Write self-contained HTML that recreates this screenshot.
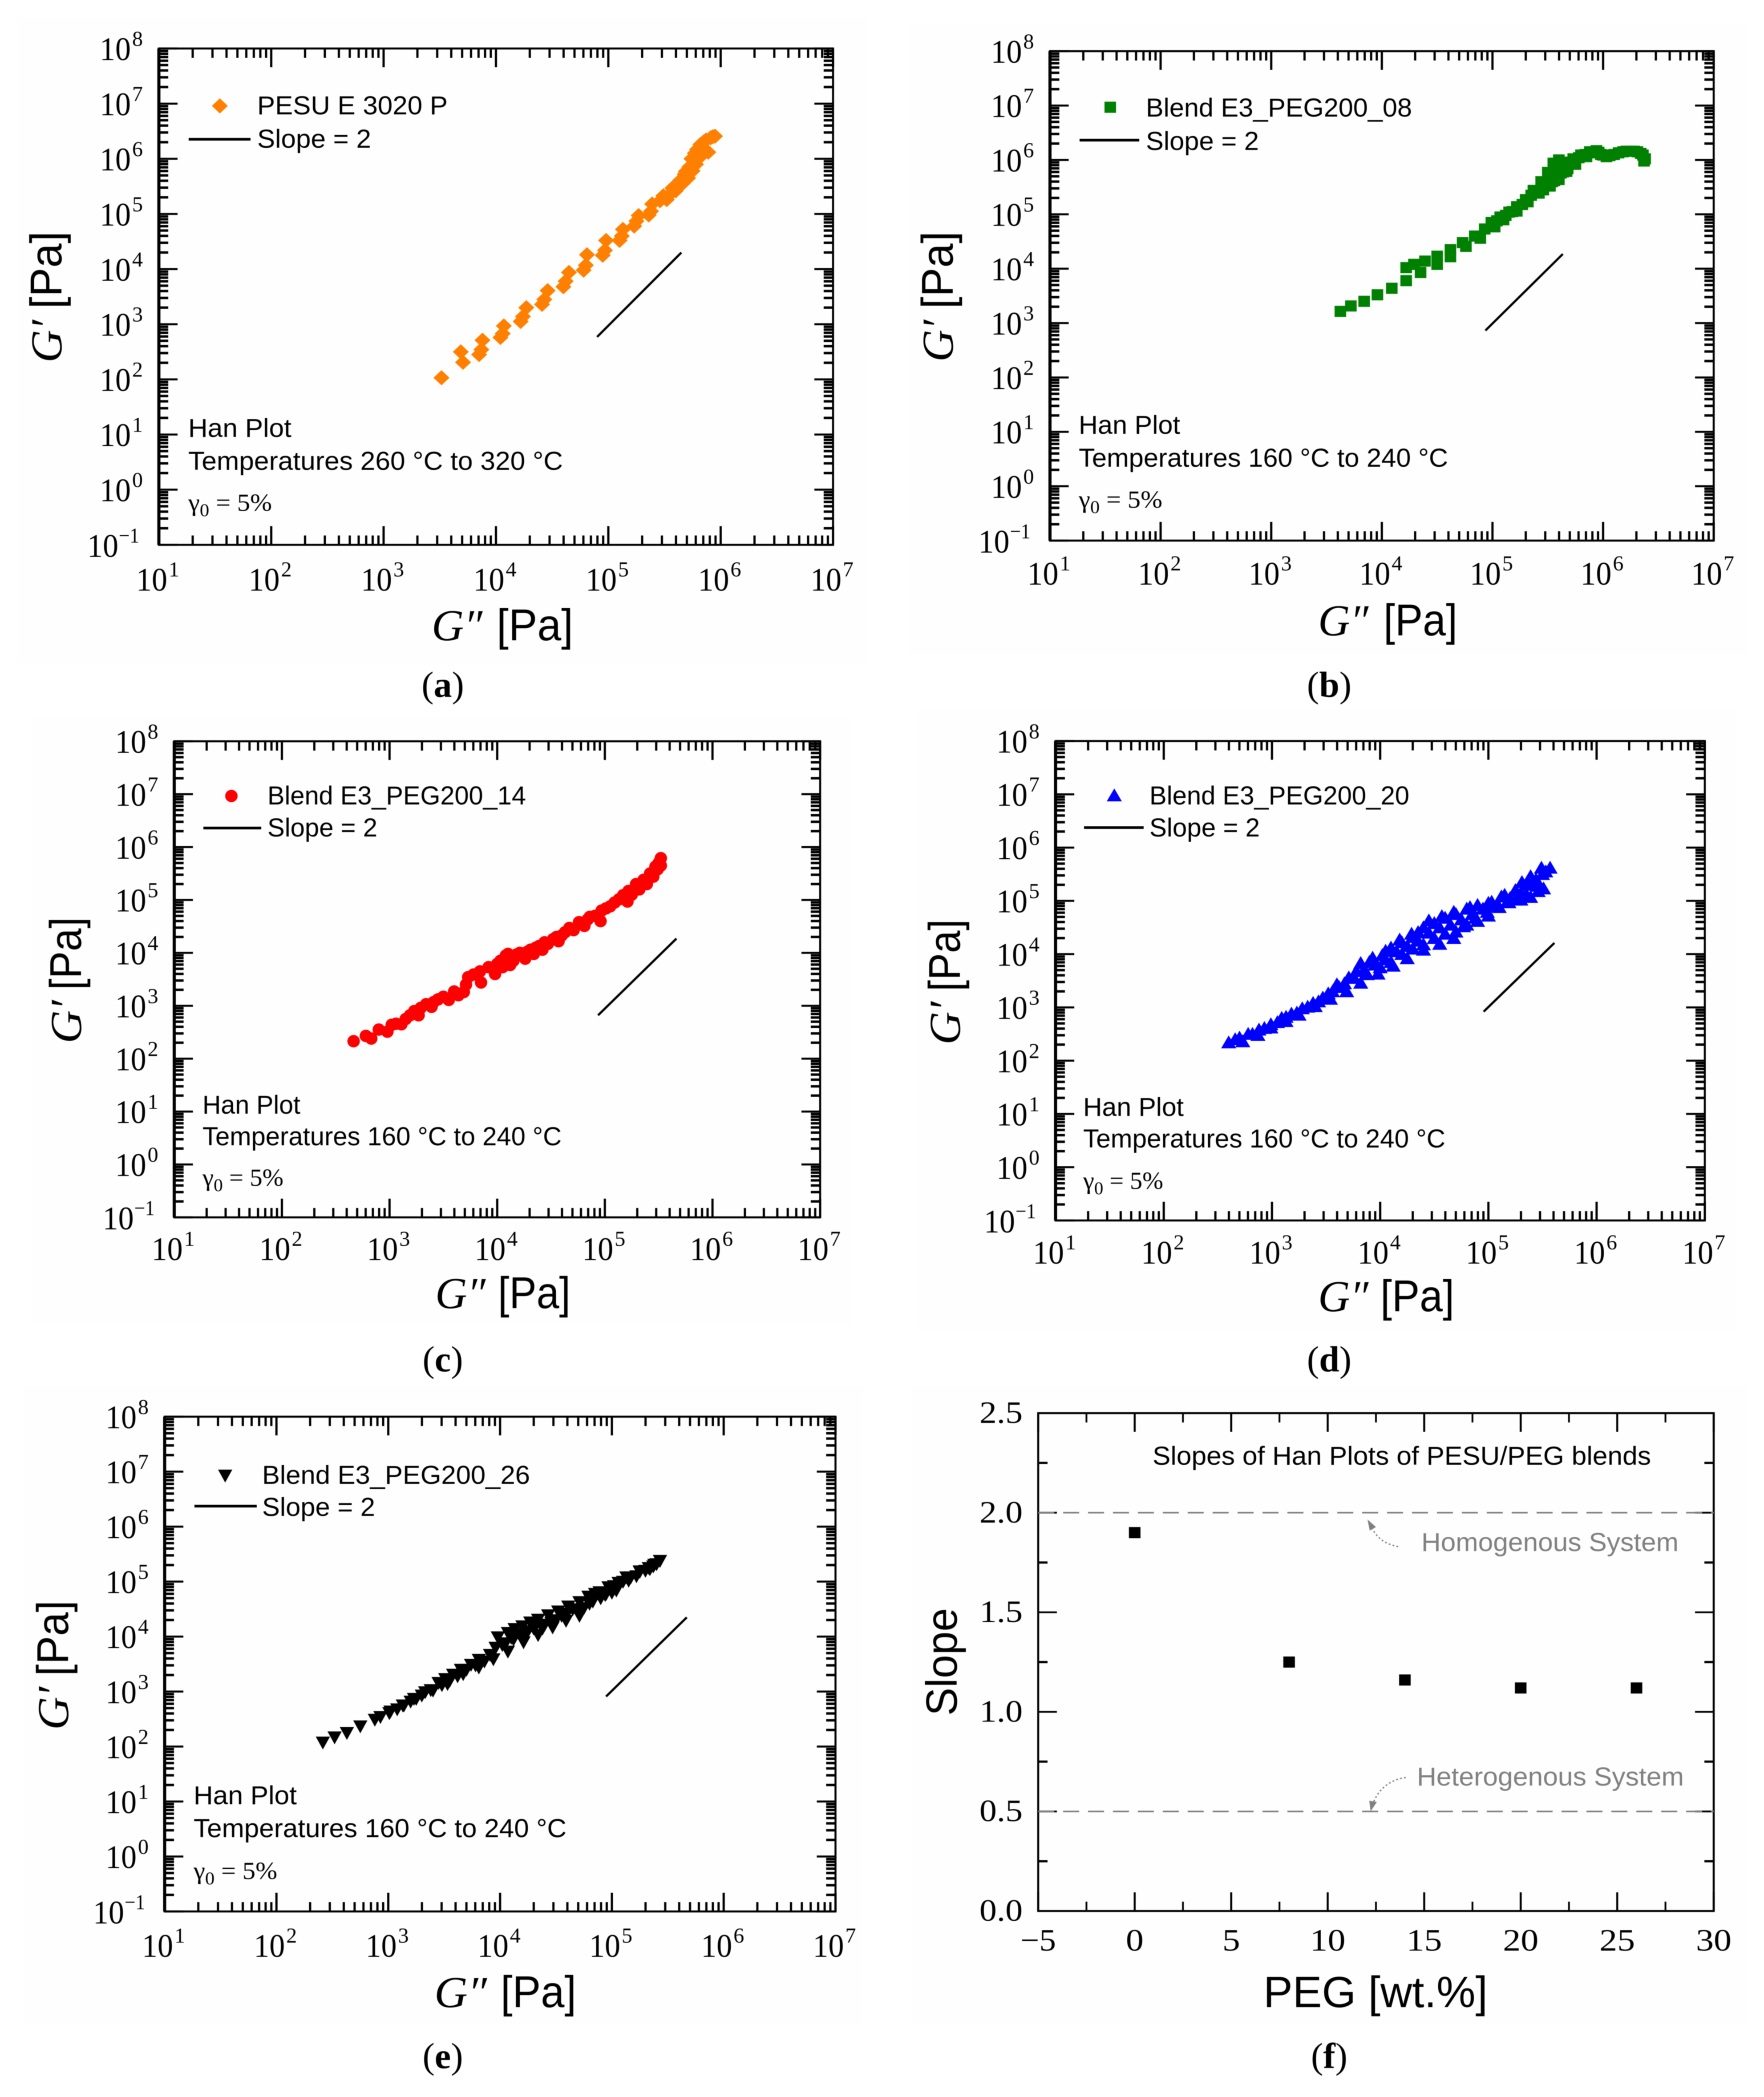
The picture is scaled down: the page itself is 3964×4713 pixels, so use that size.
<!DOCTYPE html>
<html lang="en">
<head>
<meta charset="utf-8">
<title>Han plots of PESU/PEG blends</title>
<style>
html,body{margin:0;padding:0;background:#fff;}
svg{display:block;filter:blur(0.9px);}
</style>
</head>
<body>
<svg id="figure" xmlns="http://www.w3.org/2000/svg" width="3964" height="4713" viewBox="0 0 3964 4713"></svg>
<script>
// ---------- chart data (log10 of Pa) ----------
const xTickExponents = [1, 2, 3, 4, 5, 6, 7];
const yTickExponents = [-1, 0, 1, 2, 3, 4, 5, 6, 7, 8];
const minorMultipliers = [2, 3, 4, 5, 6, 7, 8, 9];

const logGppA = [3.515,3.687,3.707,3.88,3.87,3.85,4.07,4.06,4.04,4.27,4.24,4.22,4.46,4.43,4.41,4.65,4.62,4.60,4.81,4.80,4.78,4.98,4.97,4.95,5.13,5.12,5.10,5.27,5.25,5.23,5.39,5.38,5.36,5.46,5.49,5.52,5.55,5.57,5.60,5.62,5.64,5.66,5.68,5.69,5.71,5.72,5.74,5.75,5.77,5.78,5.79,5.80,5.82,5.83,5.85,5.87,5.89,5.91,5.93,5.95];
const logGpA = [2.03,2.50,2.31,2.71,2.54,2.45,2.97,2.83,2.76,3.30,3.14,3.05,3.61,3.45,3.36,3.94,3.78,3.68,4.26,4.07,3.98,4.52,4.34,4.25,4.72,4.60,4.52,4.97,4.87,4.78,5.18,5.05,4.98,5.24,5.33,5.26,5.36,5.47,5.42,5.48,5.61,5.55,5.72,5.77,5.65,5.85,6.00,5.78,6.10,5.90,6.17,6.00,6.26,6.06,6.31,6.34,6.12,6.38,6.40,6.41];
const guideXA = [4.90, 5.65];
const guideYA = [2.77, 4.30];

const logGppB = [3.625,3.72,3.84,3.96,4.09,4.22,4.35,4.50,4.62,4.76,4.89,4.22,4.29,4.39,4.50,4.62,4.73,4.84,4.93,4.99,5.07,5.15,5.22,5.30,5.37,5.44,5.50,5.55,5.60,5.02,5.10,5.22,5.32,5.42,5.52,5.60,5.67,5.75,5.85,5.46,5.50,5.54,5.58,5.62,5.56,5.60,5.64,5.68,5.65,5.73,5.80,5.88,5.94,5.98,6.03,6.10,6.18,6.25,6.31,6.36,6.38,6.37,5.70,5.78,5.84,5.90,5.96,6.00,6.06,6.14,6.21,6.28,6.34,5.04,5.12,5.18,5.27,5.35,5.40,5.48,5.52,5.58];
const logGpB = [3.215,3.315,3.40,3.52,3.64,3.78,3.93,4.08,4.22,4.41,4.56,4.02,4.08,4.14,4.23,4.35,4.48,4.60,4.73,4.85,4.95,5.04,5.14,5.27,5.44,5.60,5.77,5.94,6.00,4.77,4.90,5.06,5.23,5.39,5.52,5.64,5.79,5.92,6.06,5.45,5.52,5.60,5.68,5.76,5.62,5.70,5.78,5.84,5.90,6.02,6.09,6.15,6.17,6.10,6.06,6.10,6.15,6.16,6.15,6.09,6.02,5.98,5.96,6.04,6.10,6.13,6.14,6.09,6.08,6.13,6.16,6.16,6.12,4.88,4.98,5.05,5.18,5.35,5.42,5.58,5.70,5.85];
const guideXB = [4.936, 5.636];
const guideYB = [2.863, 4.27];

const logGppC = [2.666,2.78,2.83,2.90,2.98,3.02,3.11,3.19,3.27,3.29,3.39,3.41,3.50,3.55,3.60,3.69,3.71,3.73,3.78,3.85,3.84,3.92,3.98,4.0,4.05,4.10,4.12,4.15,4.21,4.26,4.31,4.36,4.42,4.44,4.52,4.57,4.63,4.71,4.81,4.86,4.96,4.97,5.05,5.13,5.21,5.22,5.29,5.36,5.42,5.47,5.52,5.52,3.06,3.15,3.23,3.34,3.45,3.64,3.95,4.03,4.08,4.18,4.24,4.28,4.34,4.39,4.47,4.55,4.60,4.67,4.76,4.84,4.91,5.01,5.09,5.17,5.25,5.32,5.39,5.45,5.50,5.49];
const logGpC = [2.33,2.43,2.38,2.55,2.51,2.64,2.65,2.82,2.82,2.96,2.98,3.07,3.17,3.11,3.27,3.26,3.40,3.54,3.59,3.44,3.65,3.73,3.60,3.79,3.73,3.98,3.77,3.85,4.0,3.89,4.06,4.10,4.06,4.20,4.26,4.22,4.39,4.43,4.51,4.68,4.60,4.80,4.88,5.01,4.97,5.17,5.30,5.38,5.50,5.63,5.79,5.65,2.66,2.75,2.90,3.03,3.12,3.20,3.72,3.85,3.95,3.97,3.96,4.02,3.98,4.13,4.17,4.30,4.33,4.47,4.58,4.63,4.70,4.84,4.95,5.09,5.10,5.20,5.30,5.44,5.70,5.58];
const guideXC = [4.937, 5.665];
const guideYC = [2.82, 4.27];

const logGppD = [2.60,2.70,2.82,2.93,3.05,3.13,3.23,3.33,3.43,3.52,3.60,3.71,3.82,3.93,4.05,4.18,4.29,4.35,4.45,4.57,4.68,4.83,5.0,5.15,5.31,5.39,5.49,5.57,2.73,2.87,2.99,3.13,3.25,3.40,3.54,3.69,3.82,3.98,4.12,4.25,4.40,4.55,4.68,4.77,4.88,4.99,5.08,5.19,5.30,5.39,5.46,5.51,3.85,3.95,4.05,4.15,4.25,4.35,4.45,4.55,4.65,4.75,4.85,4.95,5.05,5.20,5.30,5.40,5.44,5.50,5.53,2.66,2.78,2.88,2.99,3.09,3.18,3.28,3.38,3.47,3.56,3.62,3.67,3.76,3.78,3.88,3.90,4.0,4.02,4.10,4.10,4.20,4.20,4.30,4.30,4.40,4.40,4.50,4.50,4.60,4.60,4.70,4.70,4.80,4.80,4.90,4.90,5.0,5.03,5.10,5.12,5.18,5.25,5.25,5.35,5.36,5.45];
const logGpD = [2.34,2.43,2.50,2.61,2.72,2.82,2.90,3.01,3.11,3.26,3.43,3.56,3.83,3.93,4.06,4.27,4.38,4.41,4.63,4.71,4.79,4.88,4.96,5.11,5.35,5.46,5.62,5.62,2.36,2.48,2.62,2.74,2.86,3.02,3.16,3.30,3.46,3.63,3.78,3.92,4.08,4.19,4.30,4.52,4.68,4.79,4.93,4.97,5.02,5.07,5.18,5.23,3.70,3.80,3.90,4.05,4.15,4.25,4.40,4.50,4.55,4.65,4.75,4.85,4.90,5.05,5.15,5.30,5.40,5.50,5.55,2.40,2.50,2.58,2.68,2.80,2.88,2.98,3.08,3.18,3.30,3.38,3.45,3.55,3.68,3.62,3.85,3.75,3.98,3.85,4.12,4.00,4.22,4.10,4.32,4.18,4.50,4.30,4.58,4.38,4.68,4.42,4.75,4.55,4.85,4.62,4.92,4.72,4.98,4.88,5.08,5.00,5.02,5.20,5.12,5.30,5.28];
const guideXD = [4.956, 5.61];
const guideYD = [2.92, 4.21];

const logGppE = [2.415,2.52,2.63,2.75,2.88,3.01,3.14,3.25,3.40,3.53,3.67,3.81,3.94,4.07,4.21,4.34,4.47,4.59,4.71,4.83,4.94,5.04,5.17,5.25,5.34,5.43,3.98,4.07,4.13,4.20,4.27,4.34,4.43,4.52,4.61,4.71,4.79,4.89,4.97,5.06,5.13,5.25,5.33,5.38,5.43,3.91,3.81,3.74,3.65,3.58,3.51,3.45,3.33,3.23,3.13,3.02,2.93,4.02,4.12,4.22,4.30,4.40,4.50,4.60,4.70,4.80,4.90,5.0,3.08,3.20,3.30,3.38,3.48,3.55,3.62,3.70,3.78,3.86,3.96,4.05,4.10,4.18,4.25,4.32,4.38,4.46,4.55,4.65,4.75,4.85,4.95,5.02,5.10,5.15,5.22,5.30,5.37,5.40];
const logGpE = [2.076,2.17,2.25,2.37,2.49,2.61,2.75,2.87,3.02,3.14,3.32,3.44,3.59,3.73,3.90,4.03,4.17,4.29,4.38,4.64,4.76,4.84,5.08,5.18,5.23,5.38,3.99,4.07,4.14,4.19,4.26,4.31,4.39,4.46,4.55,4.63,4.73,4.81,4.90,4.98,5.08,5.19,5.25,5.31,5.38,3.67,3.58,3.49,3.40,3.31,3.23,3.16,2.99,2.87,2.75,2.64,2.54,3.85,3.95,4.05,4.15,4.22,4.30,4.42,4.50,4.60,4.70,4.80,2.68,2.82,2.93,3.03,3.12,3.20,3.28,3.40,3.48,3.55,3.80,3.88,3.98,4.02,4.10,4.20,4.15,4.25,4.38,4.50,4.52,4.78,4.78,4.92,5.0,5.02,5.10,5.20,5.28,5.32];
const guideXE = [4.948, 5.67];
const guideYE = [2.91, 4.35];

const pegContent = [0, 8, 14, 20, 26];
const hanSlope = [1.9, 1.25, 1.16, 1.12, 1.12];
const referenceSlopes = [2.0, 0.5];
const slopeXTicks = [-5, 0, 5, 10, 15, 20, 25, 30];
const slopeXTickLabels = ['\u22125', '0', '5', '10', '15', '20', '25', '30'];
const slopeYTicks = [0, 0.5, 1, 1.5, 2, 2.5];
const slopeYTickLabels = ['0.0', '0.5', '1.0', '1.5', '2.0', '2.5'];

// ---------- helpers ----------
const SVGNS = 'http://www.w3.org/2000/svg';
const SERIF = '"Liberation Serif", serif';
const SANS = '"Liberation Sans", sans-serif';
const root = document.getElementById('figure');

function make(parent, tag, name, attrs) {
  const el = document.createElementNS(SVGNS, tag);
  
  
  for (const key in attrs) { el.setAttribute(key, attrs[key]); }
  parent.appendChild(el);
  return el;
}
function label(parent, name, str, x, y, size, family, extra) {
  const el = make(parent, 'text', name, Object.assign({ x: x, y: y, 'font-size': size, 'font-family': family, fill: '#000' }, extra || {}));
  el.textContent = str;
  return el;
}
function fitted(width) { return { textLength: width, lengthAdjust: 'spacingAndGlyphs' }; }
function line(parent, name, x1, y1, x2, y2, width, color) {
  return make(parent, 'line', name, { x1: x1, y1: y1, x2: x2, y2: y2, stroke: color || '#000', 'stroke-width': width });
}
function marker(parent, name, kind, cx, cy, color) {
  if (kind === 'diamond') {
    return make(parent, 'polygon', name, { points: [cx, cy - 17, cx + 18, cy, cx, cy + 17, cx - 18, cy].join(' '), fill: color });
  }
  if (kind === 'square') {
    return make(parent, 'rect', name, { x: cx - 13, y: cy - 12.5, width: 26, height: 25, fill: color });
  }
  if (kind === 'circle') {
    return make(parent, 'circle', name, { cx: cx, cy: cy, r: 14, fill: color });
  }
  if (kind === 'up') {
    return make(parent, 'polygon', name, { points: [cx, cy - 16, cx + 17, cy + 13, cx - 17, cy + 13].join(' '), fill: color });
  }
  return make(parent, 'polygon', name, { points: [cx, cy + 16, cx + 16, cy - 13, cx - 16, cy - 13].join(' '), fill: color });
}
function gammaNote(parent, x, y, width) {
  const el = make(parent, 'text', 'strain-amplitude-note', Object.assign({ x: x, y: y, 'font-size': 55, 'font-family': SERIF, fill: '#000' }, fitted(width)));
  const a = make(el, 'tspan', 'gamma-symbol', {});
  a.textContent = '\u03B3';
  const b = make(el, 'tspan', 'gamma-subscript', { dy: 12, 'font-size': 40 });
  b.textContent = '0';
  const c = make(el, 'tspan', 'gamma-value', { dy: -12 });
  c.textContent = ' = 5%';
}

// ---------- log-log Han panel ----------
function hanPanel(p) {
  const g = make(root, 'g', 'panel-' + p.id, {});
  make(g, 'rect', 'panel-background', { x: p.bg[0], y: p.bg[1], width: p.bg[2] - p.bg[0], height: p.bg[3] - p.bg[1], fill: '#fefefe' });
  const L = p.l, R = p.r, T = p.t, B = p.b;
  const xScale = function (v) { return L + (v - 1) * (R - L) / 6; };
  const yScale = function (v) { return B - (v + 1) * (B - T) / 9; };

  // ticks on all four sides
  xTickExponents.forEach(function (e) {
    const x = xScale(e);
    line(g, 'x-major-tick', x, B, x, B - 42, 5);
    line(g, 'x-major-tick-top', x, T, x, T + 42, 5);
    if (e < 7) minorMultipliers.forEach(function (m) {
      const xm = xScale(e + Math.log10(m));
      line(g, 'x-minor-tick', xm, B, xm, B - 21, 5);
      line(g, 'x-minor-tick-top', xm, T, xm, T + 21, 5);
    });
    const tx = label(g, 'x-tick-label', '10', x - 51, B + p.xTickDrop, 74, SERIF, fitted(70));
    tx.setAttribute('data-exponent', e);
    label(g, 'x-tick-exponent', String(e), x + 22, B + p.xTickDrop - 32, 48, SERIF, fitted(24));
  });
  yTickExponents.forEach(function (e) {
    const y = yScale(e);
    line(g, 'y-major-tick', L, y, L + 42, y, 4.5);
    line(g, 'y-major-tick-right', R, y, R - 42, y, 4.5);
    if (e < 8) minorMultipliers.forEach(function (m) {
      const ym = yScale(e + Math.log10(m));
      line(g, 'y-minor-tick', L, ym, L + 21, ym, 5.5);
      line(g, 'y-minor-tick-right', R, ym, R - 21, ym, 5.5);
    });
    if (e < 0) {
      label(g, 'y-tick-label', '10', L - 161, y + 27, 74, SERIF, fitted(70));
      label(g, 'y-tick-exponent', '\u2212' + Math.abs(e), L - 90, y - 5, 48, SERIF, fitted(46));
    } else {
      label(g, 'y-tick-label', '10', L - 133, y + 26, 74, SERIF, fitted(70));
      label(g, 'y-tick-exponent', String(e), L - 60, y - 6, 48, SERIF, fitted(24));
    }
  });
  make(g, 'rect', 'plot-frame', { x: L, y: T, width: R - L, height: B - T, fill: 'none', stroke: '#000', 'stroke-width': 4.5 });
  line(g, 'plot-frame-left', L, T, L, B, 7);

  // data
  const series = make(g, 'g', 'data-series', {});
  p.xs.forEach(function (v, i) {
    marker(series, 'data-point', p.kind, xScale(v), yScale(p.ys[i]), p.color);
  });
  line(g, 'slope-guide-line', xScale(p.gx[0]), yScale(p.gy[0]), xScale(p.gx[1]), yScale(p.gy[1]), 5);

  // legend
  marker(g, 'legend-marker', p.kind, p.mx, p.my, p.color);
  label(g, 'legend-label', p.legend, p.textX, p.leg1Y, 58, SANS, fitted(p.leg1W));
  line(g, 'legend-slope-line', p.lineX[0], p.lineY, p.lineX[1], p.lineY, 6);
  label(g, 'legend-slope-label', 'Slope = 2', p.textX, p.leg2Y, 58, SANS, fitted(p.leg2W));

  // notes
  label(g, 'plot-type-note', 'Han Plot', p.noteX, p.noteY[0], 58, SANS, fitted(p.noteW[0]));
  label(g, 'temperature-note', p.temps, p.noteX, p.noteY[1], 58, SANS, fitted(p.noteW[1]));
  gammaNote(g, p.noteX, p.noteY[2], p.noteW[2]);

  // axis titles
  label(g, 'x-axis-symbol', 'G\u2033', p.xt[0], p.xt[4], 100, SERIF, Object.assign({ 'font-style': 'italic' }, fitted(p.xt[1] - p.xt[0])));
  label(g, 'x-axis-unit', '[Pa]', p.xt[2], p.xt[4], 100, SANS, fitted(p.xt[3] - p.xt[2]));
  label(g, 'y-axis-symbol', 'G\u2032', 0, 0, 100, SERIF, Object.assign({ 'font-style': 'italic', transform: 'translate(' + p.yt[4] + ' ' + p.yt[3] + ') rotate(-90)' }, fitted(p.yt[3] - p.yt[2])));
  label(g, 'y-axis-unit', '[Pa]', 0, 0, 100, SANS, Object.assign({ transform: 'translate(' + p.yt[4] + ' ' + p.yt[1] + ') rotate(-90)' }, fitted(p.yt[1] - p.yt[0])));

  caption(p.id, p.capX, p.capY);
}
function caption(letter, x, y) {
  const el = make(root, 'text', 'caption-' + letter, { x: x, y: y, 'text-anchor': 'middle', 'font-size': 82, 'font-family': SERIF, fill: '#000' });
  const a = make(el, 'tspan', 'caption-open', {});
  a.textContent = '(';
  const b = make(el, 'tspan', 'caption-letter', { 'font-weight': 'bold' });
  b.textContent = letter;
  const c = make(el, 'tspan', 'caption-close', {});
  c.textContent = ')';
}

hanPanel({ id: 'a', bg: [38, 41, 1950, 1490], l: 357, r: 1872, t: 109, b: 1224.5, xTickDrop: 103, kind: 'diamond', color: '#ff8000',
  xs: logGppA, ys: logGpA, gx: guideXA, gy: guideYA,
  mx: 494, my: 238, legend: 'PESU E 3020 P', textX: 578, leg1Y: 257, leg1W: 428, leg2Y: 332, leg2W: 256, lineX: [424, 563], lineY: 313,
  temps: 'Temperatures 260 \u00B0C to 320 \u00B0C', noteX: 423, noteY: [982, 1056, 1148], noteW: [232, 842, 188],
  xt: [970, 1084, 1116, 1288, 1439], yt: [520, 694, 719, 815, 138], capX: 995, capY: 1566 });

hanPanel({ id: 'b', bg: [2044, 56, 3923, 1469], l: 2359.5, r: 3851, t: 115, b: 1215, xTickDrop: 99, kind: 'square', color: '#008000',
  xs: logGppB, ys: logGpB, gx: guideXB, gy: guideYB,
  mx: 2495, my: 241, legend: 'Blend E3_PEG200_08', textX: 2575, leg1Y: 262, leg1W: 598, leg2Y: 337, leg2W: 254, lineX: [2426, 2560], lineY: 315,
  temps: 'Temperatures 160 \u00B0C to 240 \u00B0C', noteX: 2424, noteY: [975, 1049, 1141], noteW: [228, 830, 188],
  xt: [2962, 3075, 3109, 3275, 1428], yt: [520, 694, 719, 813, 2141], capX: 2987, capY: 1566 });

hanPanel({ id: 'c', bg: [70, 1609, 1913, 2979], l: 391.6, r: 1843, t: 1666, b: 2736, xTickDrop: 96, kind: 'circle', color: '#ff0000',
  xs: logGppC, ys: logGpC, gx: guideXC, gy: guideYC,
  mx: 520, my: 1789, legend: 'Blend E3_PEG200_14', textX: 601, leg1Y: 1808, leg1W: 581, leg2Y: 1880, leg2W: 247, lineX: [457, 587], lineY: 1861,
  temps: 'Temperatures 160 \u00B0C to 240 \u00B0C', noteX: 455, noteY: [2503, 2574, 2665], noteW: [220, 807, 182],
  xt: [978, 1091, 1119, 1282, 2940], yt: [2061, 2225, 2248, 2345, 182], capX: 995, capY: 3082 });

hanPanel({ id: 'd', bg: [2063, 1595, 3904, 2989], l: 2372, r: 3831, t: 1665.5, b: 2743, xTickDrop: 97, kind: 'up', color: '#0000ff',
  xs: logGppD, ys: logGpD, gx: guideXD, gy: guideYD,
  mx: 2504, my: 1788, legend: 'Blend E3_PEG200_20', textX: 2583, leg1Y: 1808, leg1W: 584, leg2Y: 1880, leg2W: 248, lineX: [2436, 2570], lineY: 1860,
  temps: 'Temperatures 160 \u00B0C to 240 \u00B0C', noteX: 2434, noteY: [2508, 2579, 2672], noteW: [226, 814, 180],
  xt: [2962, 3075, 3102, 3268, 2947], yt: [2066, 2228, 2251, 2348, 2157], capX: 2987, capY: 3082 });

hanPanel({ id: 'e', bg: [51, 3115, 1939, 4550], l: 370, r: 1877.5, t: 3184, b: 4296, xTickDrop: 102, kind: 'down', color: '#000',
  xs: logGppE, ys: logGpE, gx: guideXE, gy: guideYE,
  mx: 506, my: 3316, legend: 'Blend E3_PEG200_26', textX: 589, leg1Y: 3335, leg1W: 602, leg2Y: 3407, leg2W: 254, lineX: [437, 577], lineY: 3385,
  temps: 'Temperatures 160 \u00B0C to 240 \u00B0C', noteX: 435, noteY: [4055, 4129, 4223], noteW: [232, 838, 188],
  xt: [976, 1094, 1125, 1295, 4511], yt: [3597, 3767, 3791, 3888, 153], capX: 995, capY: 4648 });

// ---------- slope vs PEG panel ----------
(function () {
  const g = make(root, 'g', 'panel-f', {});
  make(g, 'rect', 'panel-background', { x: 2050, y: 3115, width: 1873, height: 1435, fill: '#fefefe' });
  const L = 2333, R = 3851, T = 3176, B = 4295;
  const xScale = function (v) { return L + (v + 5) * (R - L) / 35; };
  const yScale = function (v) { return B - v * (B - T) / 2.5; };

  slopeXTicks.forEach(function (v, i) {
    const x = xScale(v);
    line(g, 'x-major-tick', x, B, x, B - 42, 4.5);
    line(g, 'x-major-tick-top', x, T, x, T + 42, 4.5);
    if (i < slopeXTicks.length - 1) {
      const xm = xScale(v + 2.5);
      line(g, 'x-minor-tick', xm, B, xm, B - 21, 4);
      line(g, 'x-minor-tick-top', xm, T, xm, T + 21, 4);
    }
    const text = slopeXTickLabels[i];
    const w = text.length === 2 ? 80 : 40;
    label(g, 'x-tick-label', text, x, 4384, 70, SERIF, Object.assign({ 'text-anchor': 'middle' }, fitted(w)));
  });
  slopeYTicks.forEach(function (v, i) {
    const y = yScale(v);
    line(g, 'y-major-tick', L, y, L + 42, y, 4);
    line(g, 'y-major-tick-right', R, y, R - 42, y, 4);
    if (i < slopeYTicks.length - 1) {
      const ym = yScale(v + 0.25);
      line(g, 'y-minor-tick', L, ym, L + 21, ym, 5);
      line(g, 'y-minor-tick-right', R, ym, R - 21, ym, 5);
    }
    label(g, 'y-tick-label', slopeYTickLabels[i], 2201, y + 22, 70, SERIF, fitted(97));
  });
  make(g, 'rect', 'plot-frame', { x: L, y: T, width: R - L, height: B - T, fill: 'none', stroke: '#000', 'stroke-width': 4.5 });

  referenceSlopes.forEach(function (v) {
    const dash = line(g, 'reference-slope-line', L, yScale(v), R, yScale(v), 3.5, '#808080');
    dash.setAttribute('stroke-dasharray', '36 20');
  });
  pegContent.forEach(function (v, i) {
    marker(g, 'slope-point', 'square', xScale(v), yScale(hanSlope[i]), '#000');
  });

  label(g, 'chart-title', 'Slopes of Han Plots of PESU/PEG blends', 2590, 3292, 58, SANS, fitted(1120));
  label(g, 'homogeneous-label', 'Homogenous System', 3194, 3486, 58, SANS, Object.assign({ fill: '#808080' }, fitted(578)));
  label(g, 'heterogeneous-label', 'Heterogenous System', 3184, 4013, 58, SANS, Object.assign({ fill: '#808080' }, fitted(600)));
  make(g, 'path', 'homogeneous-arrow', { d: 'M3142 3476 C3110 3470 3092 3455 3080 3428', fill: 'none', stroke: '#808080', 'stroke-width': 3, 'stroke-dasharray': '4 5' });
  make(g, 'polygon', 'homogeneous-arrowhead', { points: '3073,3415 3092,3432 3078,3440', fill: '#808080' });
  make(g, 'path', 'heterogeneous-arrow', { d: 'M3159 3995 C3120 4000 3095 4025 3085 4055', fill: 'none', stroke: '#808080', 'stroke-width': 3, 'stroke-dasharray': '4 5' });
  make(g, 'polygon', 'heterogeneous-arrowhead', { points: '3080,4071 3077,4047 3094,4050', fill: '#808080' });

  label(g, 'x-axis-title', 'PEG [wt.%]', 2839, 4511, 98, SANS, fitted(504));
  label(g, 'y-axis-title', 'Slope', 0, 0, 98, SANS, Object.assign({ transform: 'translate(2150 3856) rotate(-90)' }, fitted(242)));
  caption('f', 2987, 4648);
})();
</script>
</body>
</html>
